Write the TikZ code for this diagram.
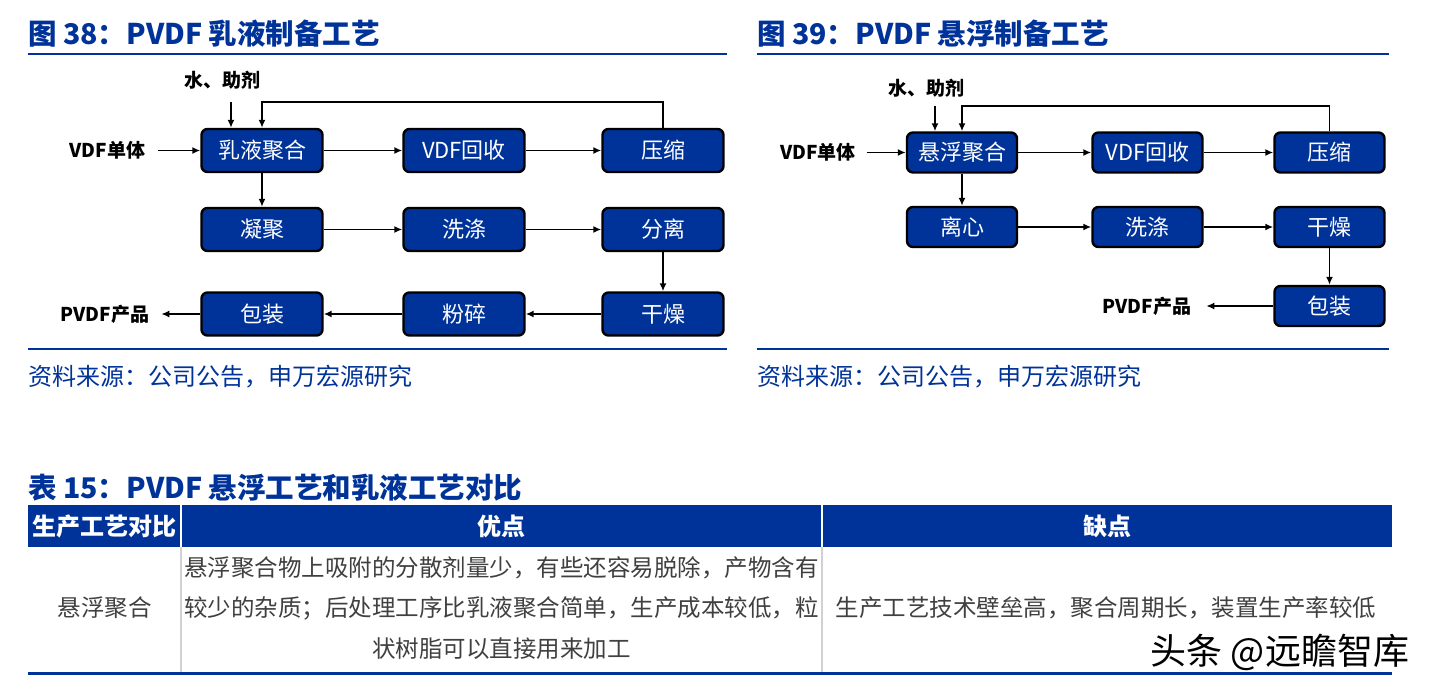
\documentclass[tikz,border=0pt]{standalone}
\usepackage{fontspec}
\setmainfont{Noto Sans CJK SC}
\usetikzlibrary{arrows.meta,positioning}
\definecolor{swblue}{RGB}{0,51,153}
\definecolor{txtgray}{RGB}{64,64,64}
\tikzset{
  stepbox/.style={rectangle, rounded corners=6pt, draw=black, line width=2.4pt,
    fill=swblue, text=white, minimum width=121pt, minimum height=43pt,
    inner sep=0pt, font=\fontsize{22}{26}\selectfont},
  smallbox/.style={stepbox, minimum width=110pt, minimum height=40pt},
  arr/.style={-{Latex[length=8pt,width=7pt]}, line width=1.6pt},
  lbl/.style={font=\bfseries\fontsize{19}{22}\selectfont, inner sep=0pt},
  ttl/.style={anchor=west, text=swblue, inner sep=0pt,
    font=\bfseries\fontsize{28.5}{32}\selectfont},
  src/.style={anchor=west, text=swblue, inner sep=0pt,
    font=\fontsize{24}{28}\selectfont},
  rule/.style={swblue, line width=2.5pt},
  cell/.style={text=txtgray, inner sep=0pt, align=center,
    font=\fontsize{23.5}{40.5}\selectfont},
  head/.style={text=white, inner sep=0pt, font=\bfseries\fontsize{24}{28}\selectfont},
}
\begin{document}
\begin{tikzpicture}[x=1pt,y=-1pt]
  \useasboundingbox[fill=white] (0,0) rectangle (1430,690);

  % figure 38: emulsion
  \node[ttl] (t38) at (28,34) {图 38：PVDF 乳液制备工艺};
  \draw[rule] (28,54)--(727,54);
  \draw[rule] (28,349)--(727,349);
  \node[src] (s38) at (28,377) {资料来源：公司公告，申万宏源研究};

  \node[stepbox] (A1) at (262,150.5) {乳液聚合};
  \node[stepbox] (A2) at (464,150.5) {VDF回收};
  \node[stepbox] (A3) at (663,150.5) {压缩};
  \node[stepbox] (A4) at (262,229.5) {凝聚};
  \node[stepbox] (A5) at (464,229.5) {洗涤};
  \node[stepbox] (A6) at (663,229.5) {分离};
  \node[stepbox] (A7) at (262,314) {包装};
  \node[stepbox] (A8) at (464,314) {粉碎};
  \node[stepbox] (A9) at (663,314) {干燥};

  \node[lbl] (w38) at (222,80) {水、助剂};
  \node[lbl, left=55pt of A1] (v38) {VDF单体};
  \node[lbl, left=51pt of A7] (p38) {PVDF产品};

  \draw[arr, shorten <=13pt] (v38) -- (A1);
  \draw[arr] ([xshift=-31pt]A1.north) +(0,-26) -- ([xshift=-31pt]A1.north);
  \draw[arr] (A3.north) -- ++(0,-26) -| (A1.north);
  \draw[arr] (A1) -- (A2);
  \draw[arr] (A2) -- (A3);
  \draw[arr] (A1) -- (A4);
  \draw[arr] (A4) -- (A5);
  \draw[arr] (A5) -- (A6);
  \draw[arr] (A6) -- (A9);
  \draw[arr] (A9) -- (A8);
  \draw[arr] (A8) -- (A7);
  \draw[arr, shorten >=12pt] (A7) -- (p38);

  % figure 39: suspension
  \node[ttl] (t39) at (757,34) {图 39：PVDF 悬浮制备工艺};
  \draw[rule] (757,54)--(1389,54);
  \draw[rule] (757,349)--(1389,349);
  \node[src] (s39) at (757,377) {资料来源：公司公告，申万宏源研究};

  \node[smallbox] (B1) at (962,152.5) {悬浮聚合};
  \node[smallbox] (B2) at (1147.5,152.5) {VDF回收};
  \node[smallbox] (B3) at (1329.5,152.5) {压缩};
  \node[smallbox] (B4) at (962,227) {离心};
  \node[smallbox] (B5) at (1147.5,227) {洗涤};
  \node[smallbox] (B6) at (1329.5,227) {干燥};
  \node[smallbox] (B7) at (1329.5,306) {包装};

  \node[lbl] (w39) at (926,88) {水、助剂};
  \node[lbl, left=50pt of B1] (v39) {VDF单体};
  \node[lbl, left=82pt of B7] (p39) {PVDF产品};

  \draw[arr, shorten <=11pt] (v39) -- (B1);
  \draw[arr] ([xshift=-27pt]B1.north) +(0,-25) -- ([xshift=-27pt]B1.north);
  \draw[arr] (B3.north) -- ++(0,-25) -| (B1.north);
  \draw[arr] (B1) -- (B2);
  \draw[arr] (B2) -- (B3);
  \draw[arr] (B1) -- (B4);
  \draw[arr] (B4) -- (B5);
  \draw[arr] (B5) -- (B6);
  \draw[arr] (B6) -- (B7);
  \draw[arr, shorten >=15pt] (B7) -- (p39);

  % table 15
  \node[ttl] (t15) at (28,488) {表 15：PVDF 悬浮工艺和乳液工艺对比};
  \fill[swblue] (28,505) rectangle (1392,547);
  \draw[white, line width=2pt] (181,505)--(181,547) (822,505)--(822,547);
  \draw[black!18, line width=2pt] (181,547)--(181,672) (822,547)--(822,672);
  \draw[rule, line width=3pt] (28,673)--(1392,673);

  \node[head] (h1) at (104.5,526) {生产工艺对比};
  \node[head] (h2) at (501.5,526) {优点};
  \node[head] (h3) at (1107,526) {缺点};

  \node[cell] (c1) at (104.5,608) {悬浮聚合};
  \node[cell] (c2) at (501.5,608) {悬浮聚合物上吸附的分散剂量少，有些还容易脱除，产物含有\\
    较少的杂质；后处理工序比乳液聚合简单，生产成本较低，粒\\
    状树脂可以直接用来加工};
  \node[cell] (c3) at (1106,608) {生产工艺技术壁垒高，聚合周期长，装置生产率较低};

  \node[inner sep=0pt, font=\fontsize{36}{40}\selectfont] (wm) at (1280,652) {头条 @远瞻智库};
\end{tikzpicture}
\end{document}
